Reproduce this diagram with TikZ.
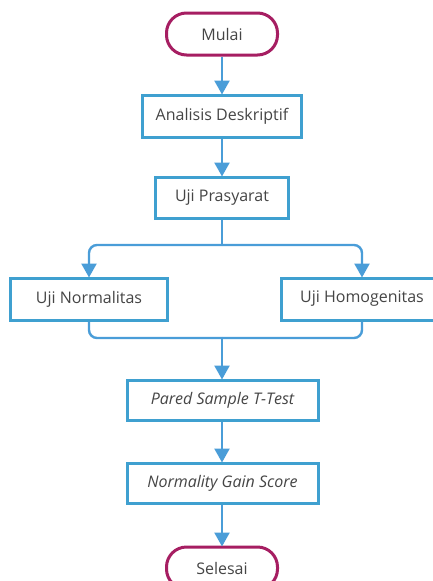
\documentclass[tikz,border=0pt]{standalone}
\usepackage{fontspec}
\setmainfont{Open Sans}
\usetikzlibrary{arrows.meta}
\definecolor{boxblue}{HTML}{3FA0D0}
\definecolor{arrowblue}{HTML}{4A9DD8}
\definecolor{termred}{HTML}{A61E62}
\definecolor{txtgray}{HTML}{454545}
\tikzset{
  stepbox/.style={draw=boxblue, line width=3pt, fill=white, minimum height=42pt, inner sep=0pt,
    text=txtgray, font=\fontsize{16}{19}\selectfont},
  termbox/.style={draw=termred, line width=3pt, fill=white, minimum width=111pt, minimum height=42pt,
    rounded corners=20pt, inner sep=0pt, text=txtgray, font=\fontsize{16}{19}\selectfont},
  conn/.style={draw=arrowblue, line width=2.4pt},
  arr/.style={conn, -{Triangle[length=14pt,width=15pt]}, shorten >=-1pt},
}
\begin{document}
\begin{tikzpicture}[x=1pt,y=-1pt]
\useasboundingbox[fill=white] (0,0) rectangle (433,581);
\begin{scope}
\clip (0,0) rectangle (433,581);
\node[termbox] (mulai) at (222,34) {Mulai};
\node[stepbox, minimum width=159pt] (ad) at (222,116) {Analisis Deskriptif};
\node[stepbox, minimum width=133pt, minimum height=41pt] (up) at (222,197.5) {Uji Prasyarat};
\node[stepbox, minimum width=157pt] (un) at (89,299) {Uji Normalitas};
\node[stepbox, minimum width=162pt] (uh) at (362,299) {Uji Homogenitas};
\node[stepbox, minimum width=191pt, minimum height=40pt] (ps) at (222.5,400) {\itshape Pared Sample T-Test};
\node[stepbox, minimum width=191pt, minimum height=40pt] (ng) at (222.5,483) {\itshape Normality Gain Score};
\node[termbox] (sel) at (222,568) {Selesai};
\coordinate (split) at (222,245);
\coordinate (merge) at (222,338);

\draw[arr] (mulai) -- (ad);
\draw[arr] (ad) -- (up);
\draw[conn] (up.south) -- (split);
\draw[arr, rounded corners=8pt] (split) -| (un.north);
\draw[arr, rounded corners=8pt] (split) -| (uh.north);
\draw[conn, rounded corners=8pt] (un.south) |- (merge);
\draw[conn, rounded corners=8pt] (uh.south) |- (merge);
\draw[arr] (merge) -- (ps.north -| merge);
\draw[arr] (ps.south -| merge) -- (ng.north -| merge);
\draw[arr] (ng.south -| merge) -- (sel.north);
\end{scope}
\end{tikzpicture}
\end{document}
